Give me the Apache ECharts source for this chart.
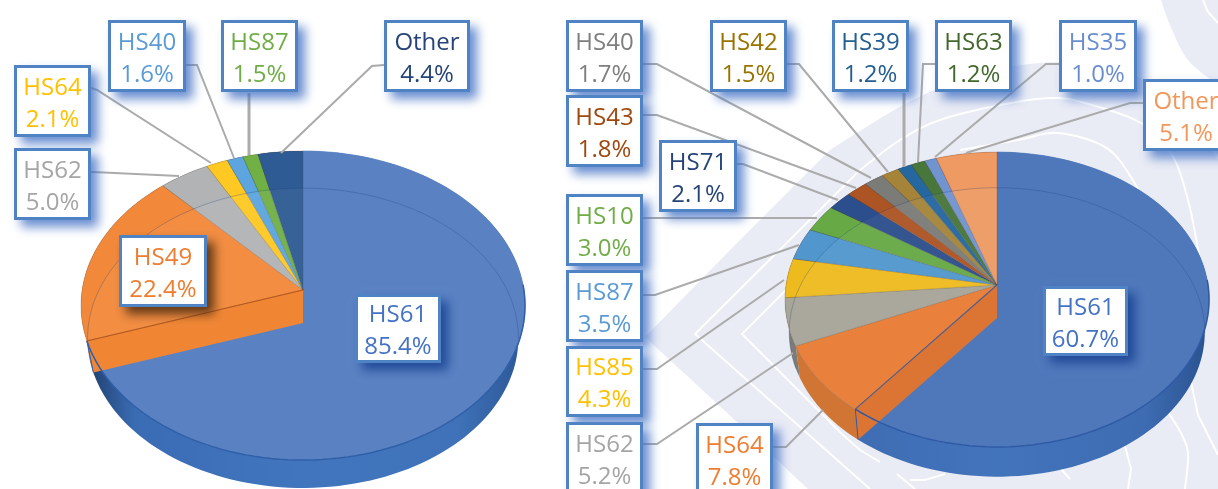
<!DOCTYPE html>
<html>
<head>
<meta charset="utf-8">
<style>html,body{margin:0;padding:0;background:#fff;overflow:hidden}#c{width:1218px;height:489px}</style>
<script src="https://cdn.jsdelivr.net/npm/echarts@6/dist/echarts.min.js"></script>
</head>
<body>
<div id="c"></div>
<script>
// ---- data ----
const leftCategories  = ['HS61','HS49','HS62','HS64','HS40','HS87','Other'];
const leftValues      = [85.4, 22.4, 5.0, 2.1, 1.6, 1.5, 4.4];
const rightCategories = ['HS61','HS64','HS62','HS85','HS87','HS10','HS71','HS43','HS40','HS42','HS39','HS63','HS35','Other'];
const rightValues     = [60.7, 7.8, 5.2, 4.3, 3.5, 3.0, 2.1, 1.8, 1.7, 1.5, 1.2, 1.2, 1.0, 5.1];

// ---- styles ----
const leftFill   = ['#5a82c2','#f2883a','#b1b3b5','#ffc822','#5ca5de','#70b044','#2f5b94'];
const leftWall   = ['#3f72b8','#d9702a','#8d8f91','#cf9f10','#3f7fb5','#528a30','#1f3f6e'];
const leftText   = ['#4472c4','#ed7d31','#a5a5a5','#ffc000','#5b9bd5','#70ad47','#264478'];
const rightFill  = ['#4f78bb','#e87c34','#a7a598','#eebb1e','#5197cd','#67a944','#2c4e8d','#ad5424','#7b7b78','#a58439','#25679f','#48763b','#7193d0','#ee9a62'];
const rightWall  = ['#3e6cb2','#cf6f2c','#77766f','#b58d12','#3a74a0','#4c8030','#1d3868','#80401a','#5a5a58','#7a6128','#1b4b75','#34562b','#5270a5','#c97c48'];
const rightText  = ['#4472c4','#ed7d31','#a5a5a5','#ffc000','#5b9bd5','#70ad47','#264478','#9e480e','#7f7f7f','#997300','#255e91','#43682b','#698ed0','#f1975a'];

// ---- layout: pie projection and label boxes ----
const leftPie  = {cx:303, ay:290, K:220.9, k:153, p:0.1003, s:0.97, depth:33, cut:'#f08634', cutStroke:'#b3561c', rimStroke:'#2f5fa8',
                  wallStops:['#1d3a66','#3a6cb4','#4176be','#3f72b8','#2c5796']};
const rightPie = {cx:997, ay:285, K:211,   k:146, p:0.0983, s:0.98, depth:33, cut:'#dc7533', cutStroke:'#4f5f90', rimStroke:'#2f5aa6',
                  wallStops:['#3a4f78','#3e6cb2','#4274bc','#3e6cb2','#2a5290']};

const leftBoxes = [[355,294,86,69],[119,235,88,72],[14,148,77,72],[14,65,77,72],[108,20,78,72],[221,20,77,72],[384,20,86,72]];
const rightBoxes = [[1043,286,85,70],[696,423,77,72],[566,422,77,72],[566,346,77,71],[566,270,77,72],[566,194,77,72],
                    [659,140,78,72],[566,95,77,72],[566,20,77,72],[710,20,77,72],[832,20,77,72],[935,20,77,72],[1059,20,78,72],[1143,79,86,72]];
const leftLeaders = [null,null,[[91,172],[93,172],[179,176]],[[91,88],[97,90],[211,163]],[[186,65],[197,65],[234,158]],[[249,93],[249,155]],[[384,65],[372,66],[281,153]]];
const rightLeaders = [null,[[773,447],[786,447],[823,410]],[[643,444],[657,444],[793,353]],[[643,369],[657,369],[784,280]],[[643,295],[655,295],[799,245]],
                      [[643,218],[817,218]],[[737,164],[743,164],[838,200]],[[643,115],[657,115],[856,188]],[[643,64],[657,64],[871,178]],[[787,64],[799,64],[888,172]],
                      [[904,93],[904,167]],[[935,64],[923,64],[918,162]],[[1059,64],[1046,64],[935,157]],[[1143,103],[1130,103],[966,153]]];

const lavender = '#e9ebf5';
const bgMain  = [[645,337],[740,240],[830,150],[907,103],[975,75],[1040,63],[1100,65],[1143,80],[1190,120],[1218,160],[1218,489],[808,489],[737,422]];
const bgCorner = [[1161,0],[1170,25],[1188,60],[1218,85],[1218,0]];
const bgLines = [
  [[870,489],[695,334],[860,170]],
  [[860,170],[900,140],[940,120],[1000,105],[1051,98],[1085,103],[1141,123],[1171,153],[1188,200],[1200,260]],
  [[1191,382],[1198,415],[1218,455]],
  [[842,434],[742,334],[800,276]],
  [[842,434],[860,450],[880,462]],
  [[960,150],[1018,140],[1058,133],[1105,147],[1131,177],[1150,215]],
  [[1168,412],[1182,435],[1188,455],[1185,489]],
  [[1125,446],[1131,469],[1128,489]],
  [[1203,0],[1208,12],[1218,23]],
  [[897,474],[915,489]],
  [[910,480],[925,480],[945,474]],
  [[1061,469],[1070,479]]
];

// ---- geometry helpers ----
const rad = d => d * Math.PI / 180;
function rim(g, deg) {
  const u = Math.sin(rad(deg)), v = -Math.cos(rad(deg)), d = 1 - g.p * v;
  return [g.cx + g.K * u / d, g.ay + g.k * v / d];
}
function low(g, deg) {
  const r = rim(g, deg);
  return [g.cx + (r[0] - g.cx) * g.s, g.ay + g.depth + (r[1] - g.ay) * g.s];
}
function arc(fn, g, a, b) {
  const n = Math.max(2, Math.ceil(Math.abs(b - a) / 2)), out = [];
  for (let i = 0; i <= n; i++) out.push(fn(g, a + (b - a) * i / n));
  return out;
}
function spline(pts) {
  const out = [];
  for (let i = 0; i < pts.length - 1; i++) {
    const p0 = pts[Math.max(i - 1, 0)], p1 = pts[i], p2 = pts[i + 1], p3 = pts[Math.min(i + 2, pts.length - 1)];
    for (let t = 0; t < 1; t += 0.1) {
      const t2 = t * t, t3 = t2 * t;
      out.push([0, 1].map(j => 0.5 * (2 * p1[j] + (p2[j] - p0[j]) * t + (2 * p0[j] - 5 * p1[j] + 4 * p2[j] - p3[j]) * t2 + (3 * p1[j] - p0[j] - 3 * p2[j] + p3[j]) * t3)));
    }
  }
  out.push(pts[pts.length - 1]);
  return out;
}

function pieSeries(values, fill, wall, g, z) {
  const total = values.reduce((a, b) => a + b, 0);
  const starts = [];
  values.reduce((acc, v, i) => (starts[i] = acc, acc + v), 0);
  const wallFill = {type:'linear', x:g.cx - g.K, y:0, x2:g.cx + g.K, y2:0, global:true,
    colorStops:g.wallStops.map((c, i) => ({offset:[0, .12, .5, .85, 1][i], color:c}))};
  return {
    type:'custom', coordinateSystem:'none', silent:true, animation:false, clip:false, z,
    data: values.map(v => [v]),
    renderItem(params, api) {
      const i = params.dataIndex;
      const a = starts[i] / total * 360, b = (starts[i] + api.value(0)) / total * 360;
      const apex = [g.cx, g.ay], lowApex = [g.cx, g.ay + g.depth];
      const top = arc(rim, g, a, b), bottom = arc(low, g, a, b);
      const kids = [];
      // side wall between the rim and the lower rim
      kids.push({type:'polygon', z2:1, shape:{points:top.concat(bottom.slice().reverse())},
        style:{fill: i === 0 ? wallFill : wall[i]}});
      // top face of the slice
      kids.push({type:'polygon', z2:2, shape:{points:[apex].concat(top)},
        style:{fill:fill[i], stroke:i === 0 ? fill[i] : 'rgba(70,60,50,0.35)', lineWidth:0.6}});
      if (i !== 0) {
        // base of the slice, seen through the translucent top
        kids.push({type:'polygon', z2:3, shape:{points:[lowApex].concat(bottom)},
          style:{fill:'rgba(255,255,255,0.045)'}});
      } else {
        // the cut face of the large slice, and the rim lines on top of it
        const e = rim(g, b), f = low(g, b);
        kids.push({type:'polygon', z2:6, shape:{points:[apex, e, f, lowApex]}, style:{fill:g.cut}});
        kids.push({type:'polyline', z2:7, shape:{points:[apex, e]}, style:{fill:'none', stroke:g.cutStroke, lineWidth:1.2}});
        kids.push({type:'polyline', z2:8, shape:{points:[e, f]}, style:{fill:'none', stroke:g.rimStroke, lineWidth:1}});
        kids.push({type:'polyline', z2:8, shape:{points:arc(rim, g, 88, b)}, style:{fill:'none', stroke:g.rimStroke, lineWidth:1.5}});
        // faint lower rim seen through the top
        kids.push({type:'polyline', z2:5, shape:{points:arc(low, g, -110, 96)}, style:{fill:'none', stroke:'rgba(30,60,120,0.28)', lineWidth:1}});
      }
      return {type:'group', children:kids};
    }
  };
}

function labelElements(cats, vals, boxes, colors, leaders) {
  const out = [];
  cats.forEach((name, i) => {
    const [x, y, w, h] = boxes[i];
    const lead = leaders[i];
    if (lead) out.push({type:'polyline', z:5, shape:{points:lead}, silent:true,
      style:{fill:'none', stroke:'#ababab', lineWidth:lead.length === 2 && lead[0][0] === lead[1][0] ? 3 : 2}});
    const shadow = i === 1 && cats === leftCategories ? 'rgba(80,45,15,0.9)' : (i === 0 ? 'rgba(30,70,150,0.95)' : 'rgba(68,114,196,0.8)');
    // shadow plate first, so the white face stays clean
    out.push({type:'rect', z:9, silent:true, shape:{x:x, y:y, width:w, height:h},
      style:{fill:'#fff', shadowBlur:10, shadowOffsetX:7, shadowOffsetY:7, shadowColor:shadow}});
    out.push({type:'rect', z:10, silent:true, shape:{x:x + 1.5, y:y + 1.5, width:w - 3, height:h - 3},
      style:{fill:'#fff', stroke:'#4f83c3', lineWidth:3}});
    [name, vals[i].toFixed(1) + '%'].forEach((t, j) => {
      out.push({type:'text', z:11, silent:true, x:x + w / 2, y:y + h / 2 + (j ? 19 : -13),
        style:{text:t, fill:colors[i], font:'24px "Open Sans"', align:'center', verticalAlign:'middle'}});
    });
  });
  return out;
}

const background = [
  {type:'polygon', z:0, silent:true, shape:{points:[bgMain[0], bgMain[1]].concat(spline(bgMain.slice(2, 10))).concat(bgMain.slice(10))}, style:{fill:lavender}},
  {type:'polygon', z:0, silent:true, shape:{points:spline(bgCorner.slice(0, 4)).concat([bgCorner[4]])}, style:{fill:lavender}}
].concat(bgLines.map(l => ({type:'polyline', z:0, silent:true, shape:{points:l.length > 3 ? spline(l) : l}, style:{fill:'none', stroke:'#fff', lineWidth:2}})));

const chart = echarts.init(document.getElementById('c'), null, {width:1218, height:489});
chart.setOption({
  animation:false,
  backgroundColor:'#ffffff',
  graphic:{elements: background
    .concat(labelElements(leftCategories, leftValues, leftBoxes, leftText, leftLeaders))
    .concat(labelElements(rightCategories, rightValues, rightBoxes, rightText, rightLeaders))},
  series:[pieSeries(leftValues, leftFill, leftWall, leftPie, 2), pieSeries(rightValues, rightFill, rightWall, rightPie, 2)]
});
</script>
</body>
</html>
